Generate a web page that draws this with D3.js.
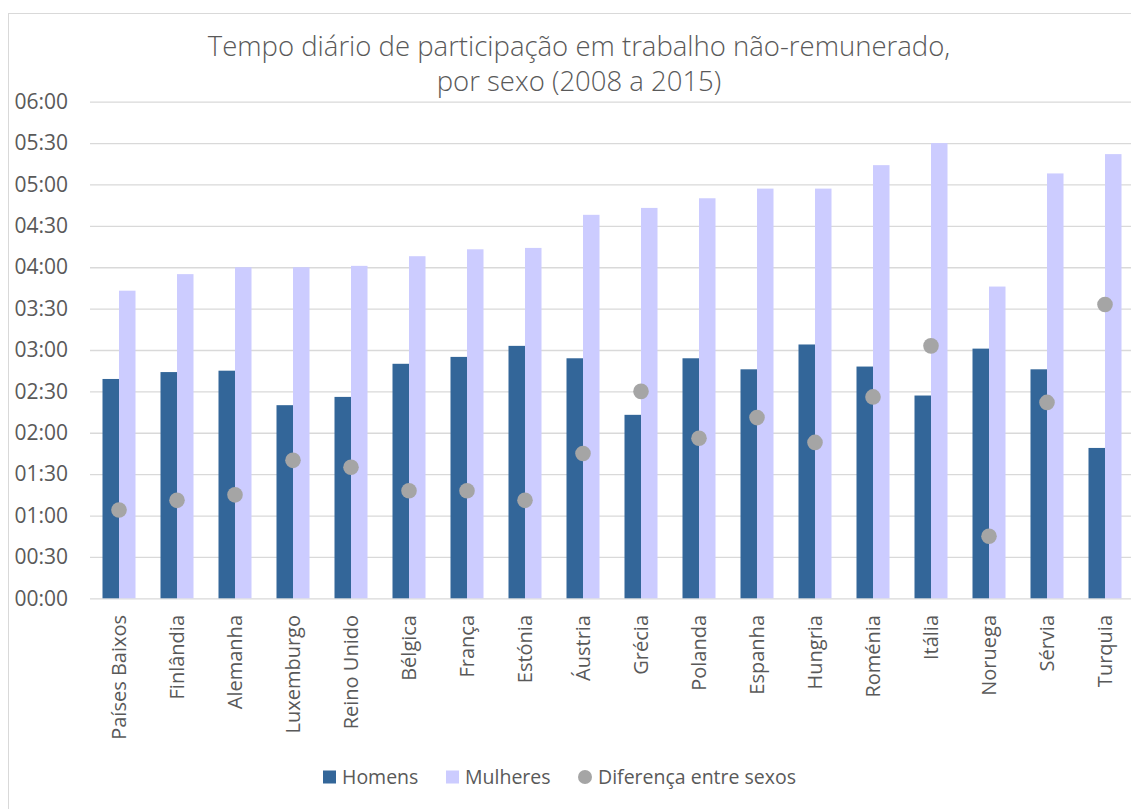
<!DOCTYPE html>
<html>
<head>
<meta charset="utf-8">
<script src="https://cdn.jsdelivr.net/npm/d3@7"></script>
<style>
  body { margin: 0; background: #fff; }
  text { font-family: "Open Sans", "Noto Sans", sans-serif; fill: #595959; }
</style>
</head>
<body>
<script>
"use strict";

// Data (minutes per day)
const countries = ["Países Baixos", "Finlândia", "Alemanha", "Luxemburgo", "Reino Unido",
    "Bélgica", "França", "Estónia", "Áustria", "Grécia", "Polanda", "Espanha",
    "Hungria", "Roménia", "Itália", "Noruega", "Sérvia", "Turquia"];
const homens   = [159, 164, 165, 140, 146, 170, 175, 183, 174, 133, 174, 166, 184, 168, 147, 181, 166, 109];
const mulheres = [223, 235, 240, 240, 241, 248, 253, 254, 278, 283, 290, 297, 297, 314, 330, 226, 308, 322];
const diferenca = [64, 71, 75, 100, 95, 78, 78, 71, 105, 150, 116, 131, 113, 146, 183, 45, 142, 213];
const yTicks = [0, 30, 60, 90, 120, 150, 180, 210, 240, 270, 300, 330, 360];
const seriesNames = ["Homens", "Mulheres", "Diferença entre sexos"];

// Size
let w = 1131;
let h = 809;
const colH = "#336699", colM = "#ccccff", colD = "#a5a5a5";

let svg = d3.select("body").append("svg")
    .attr("width", w)
    .attr("height", h);

// chart area border (right/bottom cut off like the original)
svg.append("rect")
    .attr("x", 8.5).attr("y", 13.5)
    .attr("width", w + 20).attr("height", h + 20)
    .attr("fill", "none")
    .attr("stroke", "#d9d9d9");

let x0 = d3.scaleBand()
    .domain(countries)
    .range([90, 1134])
    .paddingInner(0.431)
    .paddingOuter(0.2155);

let x1 = d3.scaleBand()
    .domain(["h", "m"])
    .range([0, x0.bandwidth()]);

let y = d3.scaleLinear()
    .domain([0, 360])
    .range([598.3, 101.7]);

const fmt = m => d3.format("02")(Math.floor(m / 60)) + ":" + d3.format("02")(m % 60);

// gridlines + y labels
let yAxis = svg.append("g")
    .attr("transform", "translate(90,0)")
    .call(d3.axisLeft(y).tickValues(yTicks).tickFormat(fmt).tickSize(-1044).tickPadding(22));
yAxis.select(".domain").remove();
yAxis.selectAll(".tick line").attr("stroke", "#d9d9d9").attr("stroke-width", 1.3);
yAxis.selectAll(".tick text")
    .attr("font-size", "21px")
    .attr("fill", "#595959")
    .attr("font-family", "'Open Sans', sans-serif");

// bars
let groups = svg.append("g").selectAll("g")
    .data(countries)
    .enter().append("g")
    .attr("transform", d => `translate(${x0(d)},0)`);

groups.append("rect")
    .attr("x", x1("h"))
    .attr("width", x1.bandwidth())
    .attr("y", (d, i) => y(homens[i]))
    .attr("height", (d, i) => y(0) - y(homens[i]))
    .attr("fill", colH);

groups.append("rect")
    .attr("x", x1("m"))
    .attr("width", x1.bandwidth())
    .attr("y", (d, i) => y(mulheres[i]))
    .attr("height", (d, i) => y(0) - y(mulheres[i]))
    .attr("fill", colM);

// difference markers
svg.append("g").selectAll("circle")
    .data(countries)
    .enter().append("circle")
    .attr("cx", d => x0(d) + x0.bandwidth() / 2)
    .attr("cy", (d, i) => y(diferenca[i]))
    .attr("r", 7.8)
    .attr("fill", colD);

// x labels (rotated)
svg.append("g").selectAll("text")
    .data(countries)
    .enter().append("text")
    .attr("transform", d => `translate(${x0(d) + x0.bandwidth() / 2 + 7},615) rotate(-90)`)
    .attr("text-anchor", "end")
    .attr("font-size", "20px")
    .text(d => d);

// title
let title = svg.append("text")
    .attr("x", 579)
    .attr("text-anchor", "middle")
    .attr("font-size", "27.5px")
    .attr("font-weight", 300);
title.append("tspan").attr("x", 579).attr("y", 56).text("Tempo diário de participação em trabalho não-remunerado,");
title.append("tspan").attr("x", 579).attr("y", 91).text("por sexo (2008 a 2015)");

// legend
let legendX = [323, 446, 578];
let legend = svg.append("g").selectAll("g")
    .data(seriesNames)
    .enter().append("g")
    .attr("transform", (d, i) => `translate(${legendX[i]},777)`);

legend.each(function(d, i) {
    let g = d3.select(this);
    if (i < 2) {
        g.append("rect").attr("x", 0).attr("y", -6.5).attr("width", 13).attr("height", 13)
            .attr("fill", i === 0 ? colH : colM);
    } else {
        g.append("circle").attr("cx", 7).attr("cy", 0).attr("r", 7).attr("fill", colD);
    }
    g.append("text")
        .attr("x", i < 2 ? 19 : 20)
        .attr("y", 7)
        .attr("font-size", "19.5px")
        .text(d);
});
</script>
</body>
</html>
